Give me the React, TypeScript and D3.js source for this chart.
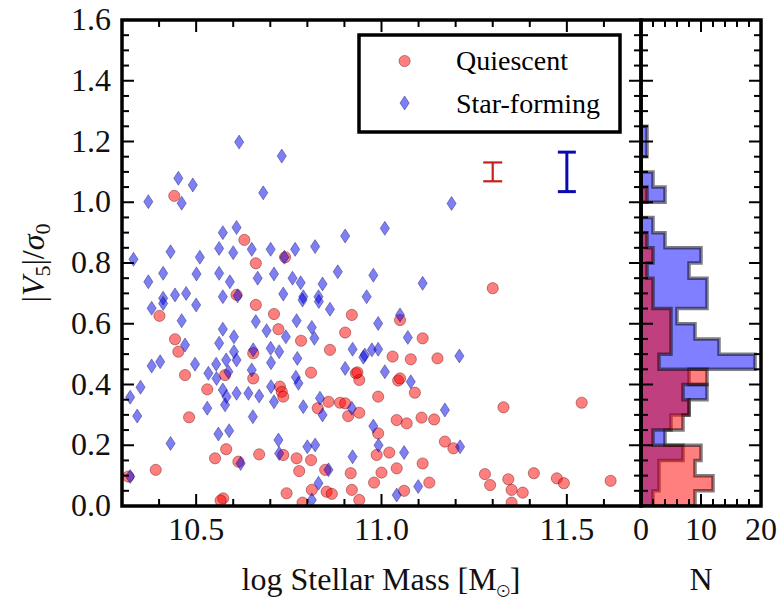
import React from "react";
import * as d3 from "d3";

// ---- Scatter data: Quiescent (red circles) ----
const qMass = [10.441, 10.63, 10.74, 10.661, 10.609, 10.401, 10.661, 10.71, 10.92, 10.722, 10.783, 10.902, 10.443, 10.452, 10.654, 10.861, 10.47, 10.578, 10.654, 10.81, 10.931, 10.94, 10.53, 10.726, 10.731, 10.735, 10.828, 10.857, 10.888, 10.902, 10.91, 10.94, 10.481, 10.581, 10.551, 10.614, 10.67, 10.735, 10.771, 10.81, 10.778, 10.848, 10.917, 10.391, 10.317, 10.573, 10.744, 10.812, 10.852, 10.92, 10.787, 10.866, 10.94, 10.987, 11.021, 11.0, 11.041, 10.98, 11.061, 11.129, 11.111, 11.171, 11.194, 11.279, 11.293, 11.342, 11.351, 11.381, 11.351, 11.411, 11.473, 11.492, 11.618, 11.3, 11.05, 11.111, 11.03, 11.079, 11.151, 11.045, 11.05, 11.09, 10.991, 11.329, 11.54, 11.041, 11.068, 11.108, 11.142, 10.991, 10.566, 10.935];
const qV = [1.021, 0.876, 0.819, 0.799, 0.695, 0.626, 0.662, 0.632, 0.629, 0.582, 0.544, 0.571, 0.549, 0.508, 0.503, 0.514, 0.431, 0.431, 0.42, 0.439, 0.437, 0.415, 0.384, 0.393, 0.376, 0.36, 0.322, 0.343, 0.34, 0.338, 0.296, 0.307, 0.292, 0.187, 0.157, 0.146, 0.17, 0.168, 0.157, 0.151, 0.115, 0.119, 0.108, 0.119, 0.097, 0.025, 0.042, 0.053, 0.047, 0.053, 0.011, 0.04, 0.02, 0.168, 0.176, 0.11, 0.124, 0.077, 0.05, 0.077, 0.14, 0.212, 0.19, 0.105, 0.069, 0.088, 0.053, 0.044, 0.011, 0.108, 0.091, 0.075, 0.083, 0.717, 0.612, 0.552, 0.492, 0.483, 0.486, 0.413, 0.42, 0.373, 0.36, 0.325, 0.34, 0.283, 0.272, 0.291, 0.285, 0.239, 0.018, 0.44];

// ---- Scatter data: Star-forming (blue diamonds) ----
const sfMass = [10.616, 10.731, 10.452, 10.491, 10.461, 10.371, 10.681, 10.902, 10.609, 10.572, 10.562, 10.6, 10.65, 10.701, 10.821, 10.767, 10.738, 10.431, 10.331, 10.51, 10.501, 10.411, 10.371, 10.562, 10.591, 10.666, 10.71, 10.76, 10.782, 10.841, 10.882, 10.473, 10.443, 10.411, 10.572, 10.612, 10.735, 10.789, 10.83, 10.96, 10.38, 10.411, 10.461, 10.5, 10.787, 10.831, 10.861, 10.572, 10.602, 10.661, 10.69, 10.742, 10.771, 10.812, 10.819, 10.47, 10.562, 10.602, 10.654, 10.701, 10.724, 10.922, 10.955, 10.38, 10.403, 10.497, 10.533, 10.554, 10.581, 10.609, 10.587, 10.65, 10.702, 10.773, 10.769, 10.776, 10.902, 10.35, 10.322, 10.341, 10.555, 10.572, 10.582, 10.609, 10.641, 10.67, 10.53, 10.578, 10.702, 10.71, 10.789, 10.834, 10.841, 10.92, 10.653, 10.56, 10.589, 10.431, 10.722, 10.62, 10.724, 10.8, 10.821, 10.857, 10.922, 10.322, 10.83, 10.812, 10.992, 11.061, 11.041, 11.099, 11.212, 11.189, 11.009, 10.978, 11.111, 10.991, 11.05, 11.071, 10.974, 10.951, 10.991, 11.21, 11.009, 11.079, 11.171, 10.978];
const sfV = [1.198, 1.152, 1.079, 1.057, 0.997, 1.002, 1.031, 0.889, 0.917, 0.9, 0.848, 0.834, 0.845, 0.845, 0.854, 0.845, 0.819, 0.837, 0.812, 0.819, 0.764, 0.766, 0.738, 0.766, 0.738, 0.75, 0.764, 0.75, 0.735, 0.731, 0.771, 0.7, 0.695, 0.684, 0.689, 0.692, 0.698, 0.689, 0.689, 0.689, 0.651, 0.667, 0.61, 0.662, 0.678, 0.673, 0.648, 0.582, 0.557, 0.607, 0.577, 0.557, 0.61, 0.588, 0.552, 0.53, 0.536, 0.508, 0.514, 0.519, 0.508, 0.516, 0.497, 0.461, 0.475, 0.467, 0.437, 0.467, 0.481, 0.481, 0.442, 0.448, 0.472, 0.486, 0.424, 0.404, 0.453, 0.391, 0.358, 0.296, 0.42, 0.382, 0.36, 0.371, 0.371, 0.362, 0.322, 0.333, 0.393, 0.343, 0.327, 0.355, 0.3, 0.322, 0.294, 0.237, 0.248, 0.206, 0.217, 0.14, 0.173, 0.195, 0.201, 0.119, 0.162, 0.097, 0.075, 0.02, 0.2, 0.176, 0.036, 0.064, 0.195, 0.996, 0.914, 0.76, 0.733, 0.601, 0.629, 0.555, 0.514, 0.49, 0.516, 0.494, 0.442, 0.409, 0.316, 0.263];

// ---- Histogram (counts per bin of |V5|/sigma0) ----
const binEdges = [0, 0.05, 0.1, 0.15, 0.2, 0.25, 0.3, 0.35, 0.4, 0.45, 0.5, 0.55, 0.6, 0.65, 0.7, 0.75, 0.8, 0.85, 0.9, 0.95, 1.0, 1.05, 1.1, 1.15, 1.2, 1.25];
const qCounts = [9, 12, 9, 10, 2, 7, 8, 7, 11, 3, 5, 5, 5, 2, 2, 1, 2, 1, 0, 0, 1, 0, 0, 0, 0];
const sfCounts = [2, 3, 3, 7, 4, 5, 8, 11, 8, 19, 13, 9, 6, 11, 11, 8, 10, 4, 2, 0, 4, 2, 0, 1, 1];

// ---- Typical error bars ----
const errQ = { mass: 11.3, v: 1.1, err: 0.031 };
const errSF = { mass: 11.5, v: 1.1, err: 0.065 };

// ---- Ticks ----
const xMajor = [10.5, 11.0, 11.5];
const xMajorLabels = ["10.5", "11.0", "11.5"];
const yMajor = [0, 0.2, 0.4, 0.6, 0.8, 1.0, 1.2, 1.4, 1.6];
const yMajorLabels = ["0.0", "0.2", "0.4", "0.6", "0.8", "1.0", "1.2", "1.4", "1.6"];
const hMajor = [0, 10, 20];
const hMajorLabels = ["0", "10", "20"];

const FONT = '"Liberation Serif", "Tinos", "Nimbus Roman", "Nimbus Roman No9 L", "FreeSerif", "Noto Serif", "DejaVu Serif", "Times New Roman", Times, "Noto Serif CJK SC", serif';

export default function App() {
  const x = d3.scaleLinear().domain([10.3, 11.7]).range([122, 641]);
  const y = d3.scaleLinear().domain([0, 1.6]).range([506, 20]);
  const hx = d3.scaleLinear().domain([0, 20]).range([641, 761]);

  const xMinor = x.ticks(14).filter((t) => !xMajor.some((m) => Math.abs(m - t) < 1e-6));
  const yMinor = y.ticks(32).filter((t) => !yMajor.some((m) => Math.abs(m - t) < 1e-6));
  const hMinor = hx.ticks(10).filter((t) => !hMajor.includes(t));

  const stepPath = (counts: number[]) => {
    const pts: [number, number][] = [[0, binEdges[0]]];
    counts.forEach((c, i) => {
      pts.push([c, binEdges[i]]);
      pts.push([c, binEdges[i + 1]]);
    });
    pts.push([0, binEdges[counts.length]]);
    return (d3.line<[number, number]>().x((d) => hx(d[0])).y((d) => y(d[1]))(pts) || "") + "Z";
  };

  const diamond = "M0,-7L4.6,0L0,7L-4.6,0Z";
  const redFill = "rgba(255,0,0,0.5)";
  const redEdge = "rgba(90,0,0,0.45)";
  const blueFill = "rgba(0,0,235,0.5)";
  const blueEdge = "rgba(0,0,70,0.4)";

  const L = 122, R = 641, T = 20, B = 506, HR = 761;
  const majLen = 12, minLen = 7;
  const tickStroke = { stroke: "#000", strokeWidth: 2 };
  const serif: React.CSSProperties = { fontFamily: FONT };

  return (
    <svg width={784} height={602} style={{ position: "absolute", left: 0, top: 0, background: "#fff", fontFamily: FONT }}>
      <defs>
        <clipPath id="mainClip"><rect x={L} y={T} width={R - L} height={B - T} /></clipPath>
        <clipPath id="histClip"><rect x={R} y={T} width={HR - R} height={B - T} /></clipPath>
      </defs>
      <rect x={0} y={0} width={784} height={602} fill="#fff" />

      {/* scatter */}
      <g clipPath="url(#mainClip)">
        {qMass.map((m, i) => (
          <circle key={"q" + i} cx={x(m)} cy={y(qV[i])} r={5.6} fill={redFill} stroke={redEdge} strokeWidth={0.9} />
        ))}
        {sfMass.map((m, i) => (
          <path key={"s" + i} d={diamond} transform={`translate(${x(m)},${y(sfV[i])})`} fill={blueFill} stroke={blueEdge} strokeWidth={0.9} />
        ))}
      </g>

      {/* error bars */}
      {[{ e: errQ, c: "#c81e1e", w: 2.2, cap: 9.5 }, { e: errSF, c: "#0a0ab0", w: 3, cap: 9 }].map((o, i) => (
        <g key={"eb" + i} stroke={o.c} strokeWidth={o.w}>
          <line x1={x(o.e.mass)} x2={x(o.e.mass)} y1={y(o.e.v - o.e.err)} y2={y(o.e.v + o.e.err)} />
          <line x1={x(o.e.mass) - o.cap} x2={x(o.e.mass) + o.cap} y1={y(o.e.v - o.e.err)} y2={y(o.e.v - o.e.err)} />
          <line x1={x(o.e.mass) - o.cap} x2={x(o.e.mass) + o.cap} y1={y(o.e.v + o.e.err)} y2={y(o.e.v + o.e.err)} />
        </g>
      ))}

      {/* histogram */}
      <g clipPath="url(#histClip)">
        <path d={stepPath(sfCounts)} fill="rgba(0,0,255,0.5)" stroke="rgba(0,0,0,0.5)" strokeWidth={3.5} />
        <path d={stepPath(qCounts)} fill="rgba(255,0,0,0.5)" stroke="rgba(0,0,0,0.5)" strokeWidth={3.5} />
      </g>

      {/* legend */}
      <rect x={359} y={35} width={261} height={97} fill="#fff" stroke="#000" strokeWidth={3.5} />
      <circle cx={404.6} cy={61} r={5.6} fill={redFill} stroke={redEdge} strokeWidth={0.9} />
      <path d={diamond} transform="translate(404.6,103)" fill={blueFill} stroke={blueEdge} strokeWidth={0.9} />
      <text x={456} y={70} fontSize={28} style={serif}>Quiescent</text>
      <text x={456} y={113} fontSize={28} style={serif}>Star-forming</text>

      {/* main ticks */}
      <g {...tickStroke}>
        {xMajor.map((t) => (
          <g key={"xM" + t}>
            <line x1={x(t)} x2={x(t)} y1={B} y2={B - majLen} />
            <line x1={x(t)} x2={x(t)} y1={T} y2={T + majLen} />
          </g>
        ))}
        {xMinor.map((t) => (
          <g key={"xm" + t}>
            <line x1={x(t)} x2={x(t)} y1={B} y2={B - minLen} />
            <line x1={x(t)} x2={x(t)} y1={T} y2={T + minLen} />
          </g>
        ))}
        {yMajor.map((t) => (
          <g key={"yM" + t}>
            <line x1={L} x2={L + majLen} y1={y(t)} y2={y(t)} />
            <line x1={R} x2={R - majLen} y1={y(t)} y2={y(t)} />
            <line x1={R} x2={R + majLen} y1={y(t)} y2={y(t)} />
            <line x1={HR} x2={HR - majLen} y1={y(t)} y2={y(t)} />
          </g>
        ))}
        {yMinor.map((t) => (
          <g key={"ym" + t}>
            <line x1={L} x2={L + minLen} y1={y(t)} y2={y(t)} />
            <line x1={R} x2={R - minLen} y1={y(t)} y2={y(t)} />
            <line x1={R} x2={R + minLen} y1={y(t)} y2={y(t)} />
            <line x1={HR} x2={HR - minLen} y1={y(t)} y2={y(t)} />
          </g>
        ))}
        {hMajor.map((t) => (
          <g key={"hM" + t}>
            <line x1={hx(t)} x2={hx(t)} y1={B} y2={B - majLen} />
            <line x1={hx(t)} x2={hx(t)} y1={T} y2={T + majLen} />
          </g>
        ))}
        {hMinor.map((t) => (
          <g key={"hm" + t}>
            <line x1={hx(t)} x2={hx(t)} y1={B} y2={B - minLen} />
            <line x1={hx(t)} x2={hx(t)} y1={T} y2={T + minLen} />
          </g>
        ))}
      </g>

      {/* frames */}
      <rect x={L} y={T} width={R - L} height={B - T} fill="none" stroke="#000" strokeWidth={3.5} />
      <rect x={R} y={T} width={HR - R} height={B - T} fill="none" stroke="#000" strokeWidth={3.5} />

      {/* tick labels */}
      <g fontSize={32} fill="#111" style={serif}>
        {xMajor.map((t, i) => (
          <text key={"xl" + t} x={x(t)} y={540} textAnchor="middle" style={serif}>{xMajorLabels[i]}</text>
        ))}
        {yMajor.map((t, i) => (
          <text key={"yl" + t} x={111} y={y(t) + 10} textAnchor="end" style={serif}>{yMajorLabels[i]}</text>
        ))}
        {hMajor.map((t, i) => (
          <text key={"hl" + t} x={hx(t)} y={540} textAnchor="middle" style={serif}>{hMajorLabels[i]}</text>
        ))}
      </g>

      {/* axis titles */}
      <text x={381} y={590} textAnchor="middle" fontSize={32} fill="#111" style={serif}>
        log Stellar Mass [M<tspan fontSize={20} dy={6}>⊙</tspan><tspan dy={-6}>]</tspan>
      </text>
      <text x={701} y={590} textAnchor="middle" fontSize={32} fill="#111" style={serif}>N</text>
      <text transform={`translate(44,${(T + B) / 2}) rotate(-90)`} textAnchor="middle" fontSize={32} fill="#111" style={serif}>
        |<tspan fontStyle="italic">V</tspan><tspan fontSize={22} dy={6}>5</tspan><tspan dy={-6}>|/</tspan><tspan fontStyle="italic">σ</tspan><tspan fontSize={22} dy={6}>0</tspan>
      </text>
    </svg>
  );
}
